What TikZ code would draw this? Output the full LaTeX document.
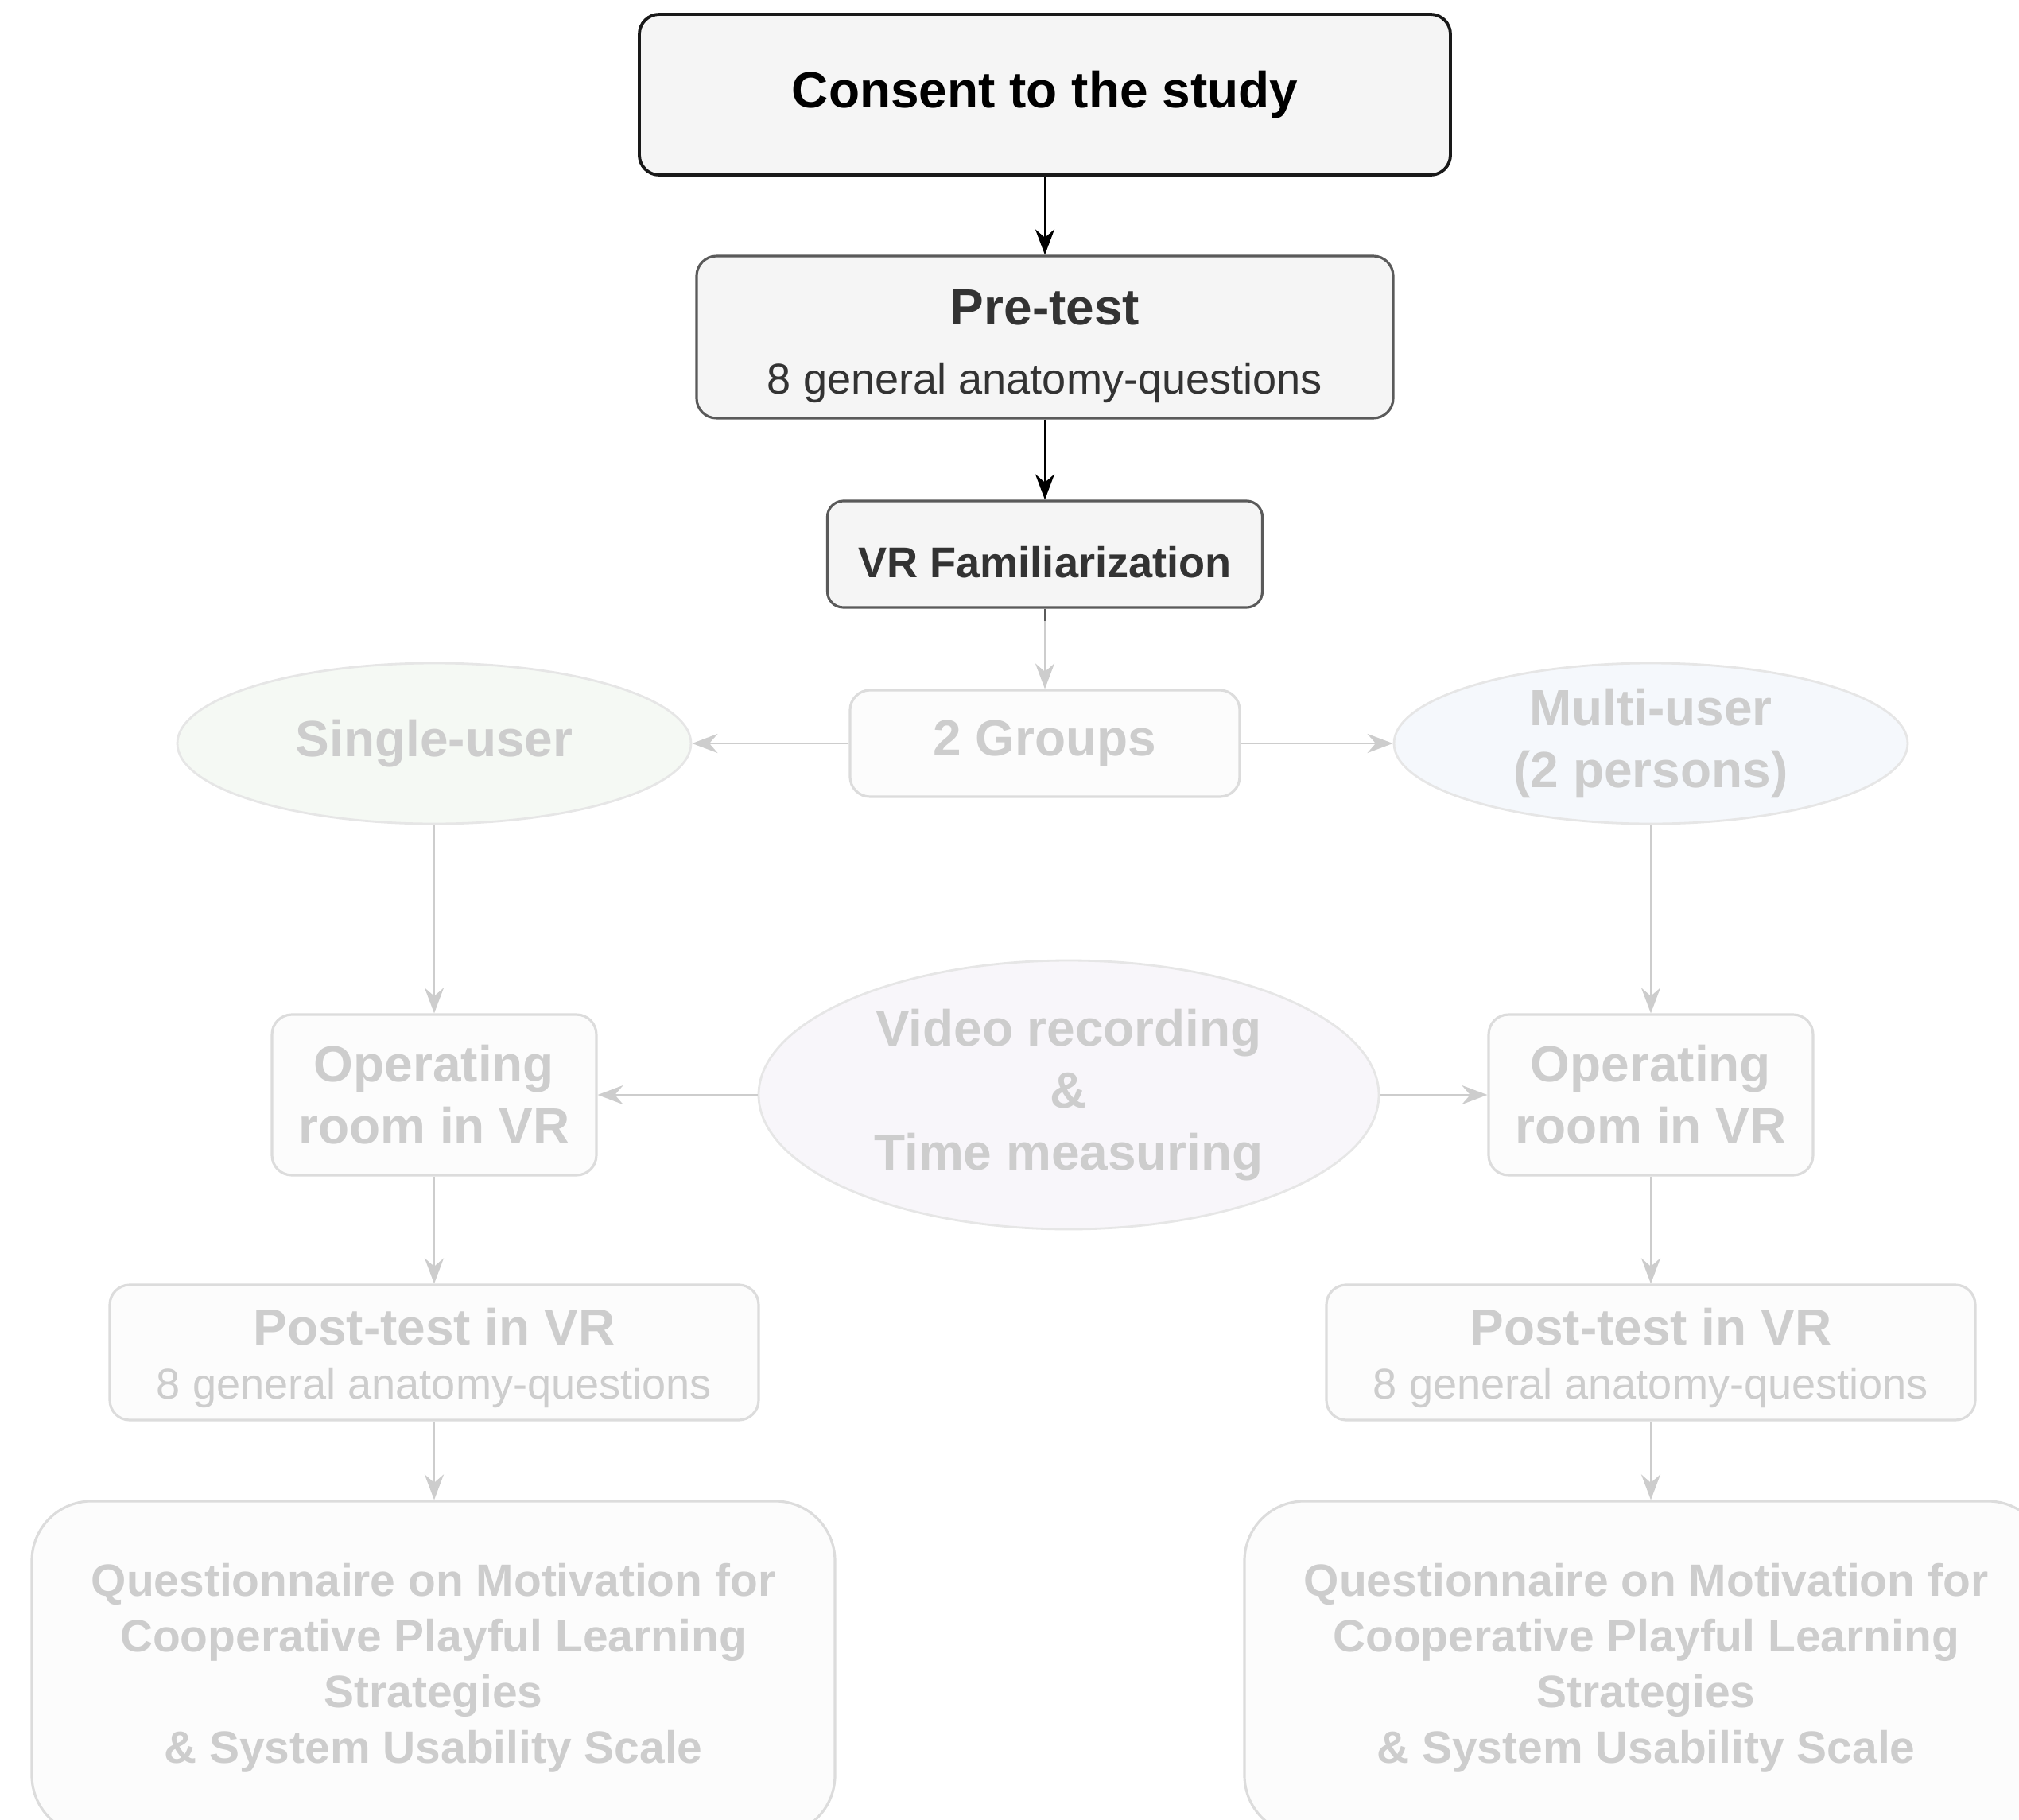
\documentclass[tikz,border=0pt]{standalone}
\usepackage{fontspec}
\setmainfont{Liberation Sans}
\usepackage{xcolor}
\usetikzlibrary{arrows.meta,positioning,shapes.geometric}
\definecolor{boxfill}{HTML}{F5F5F5}
\definecolor{darkline}{HTML}{5A5A5A}
\definecolor{fadetext}{HTML}{CDCDCD}
\definecolor{fadeline}{HTML}{DCDCDC}
\definecolor{ovalline}{HTML}{E6E6E6}
\definecolor{fadefill}{HTML}{FCFCFC}
\definecolor{singlecol}{HTML}{F5F9F4}
\definecolor{multicol}{HTML}{F5F8FC}
\definecolor{videocol}{HTML}{F8F6FA}
\newcommand{\bigfont}{\fontsize{18.2}{22.2}\selectfont\bfseries}
\newcommand{\midfont}{\fontsize{15.4}{18.5}\selectfont\bfseries}
\newcommand{\smallfont}{\fontsize{15.4}{18.5}\selectfont}
\newcommand{\questfont}{\fontsize{16.2}{19.9}\selectfont\bfseries}
\tikzset{
  stepbox/.style={draw=darkline,fill=boxfill,rounded corners=0.25cm,line width=0.9pt,
    text=black!80,align=center,inner sep=0pt},
  fadebox/.style={draw=fadeline,fill=fadefill,rounded corners=0.25cm,line width=0.9pt,
    text=fadetext,align=center,inner sep=0pt},
  fadeoval/.style={ellipse,draw=ovalline,line width=0.8pt,text=fadetext,align=center,inner sep=0pt},
  flow/.style={-{Stealth[length=0.32cm,width=0.24cm]},line width=0.8pt},
  fadeflow/.style={flow,fadetext}
}

\begin{document}
\begin{tikzpicture}[x=1cm,y=1cm,>=Stealth]
  \useasboundingbox (0,0) rectangle (25.39,-22.89);
  % common part of the study
  \node[stepbox,draw=black!90,line width=1.1pt,text=black,font=\bigfont,
    minimum width=10.2cm,minimum height=2.02cm] (consent) at (13.14,-1.19) {Consent to the study};
  \node[stepbox,font=\smallfont,minimum width=8.76cm,minimum height=2.04cm] (pretest) at (13.14,-4.24)
    {\rule{0pt}{0.67cm}{\bigfont Pre-test}\\[6.2pt]8 general anatomy-questions};
  \node[stepbox,font=\midfont,rounded corners=0.2cm,minimum width=5.47cm,minimum height=1.34cm]
    (vrfam) at (13.14,-6.97) {\rule{0pt}{0.6cm}VR Familiarization};
  \node[fadebox,font=\bigfont,minimum width=4.9cm,minimum height=1.34cm] (groups) at (13.14,-9.35) {2 Groups};
  \node[fadeoval,fill=videocol,font=\bigfont,minimum width=7.8cm,minimum height=3.38cm]
    (video) at (13.44,-13.77) {Video recording\\\&\\Time measuring};
  \draw[flow] (consent) -- (pretest);
  \draw[flow] (pretest) -- (vrfam);
  \draw[fadeflow] (vrfam) -- (groups);
  \draw[darkline,line width=0.8pt] (vrfam.south) -- ++(0,-0.15);
  % the two groups
  \foreach \side/\x/\qx/\grp/\col in {L/5.46/5.45/{Single-user}/singlecol,
      R/20.76/20.70/{Multi-user\\(2 persons)}/multicol} {
    \node[fadeoval,fill=\col,font=\bigfont,minimum width=6.46cm,minimum height=2.02cm]
      (grp\side) at (\x,-9.35) {\grp};
    \node[fadebox,font=\bigfont,minimum width=4.08cm,minimum height=2.02cm]
      (op\side) at (\x,-13.77) {Operating\\room in VR};
    \node[fadebox,font=\smallfont,minimum width=8.16cm,minimum height=1.70cm]
      (post\side) at (\x,-17.01) {\rule{0pt}{0.6cm}{\bigfont Post-test in VR}\\[0.7pt]8 general anatomy-questions};
    \node[fadebox,font=\questfont,rounded corners=0.75cm,minimum width=10.1cm,minimum height=4.2cm]
      (quest\side) at (\qx,-20.98) {Questionnaire on Motivation for\\Cooperative Playful Learning\\
      Strategies\\\& System Usability Scale};
    \draw[fadeflow] (groups) -- (grp\side);
    \draw[fadeflow] (grp\side) -- (op\side);
    \draw[fadeflow] (video) -- (op\side);
    \draw[fadeflow] (op\side) -- (post\side);
    \draw[fadeflow] (post\side) -- (post\side |- quest\side.north);
  }
\end{tikzpicture}
\end{document}
